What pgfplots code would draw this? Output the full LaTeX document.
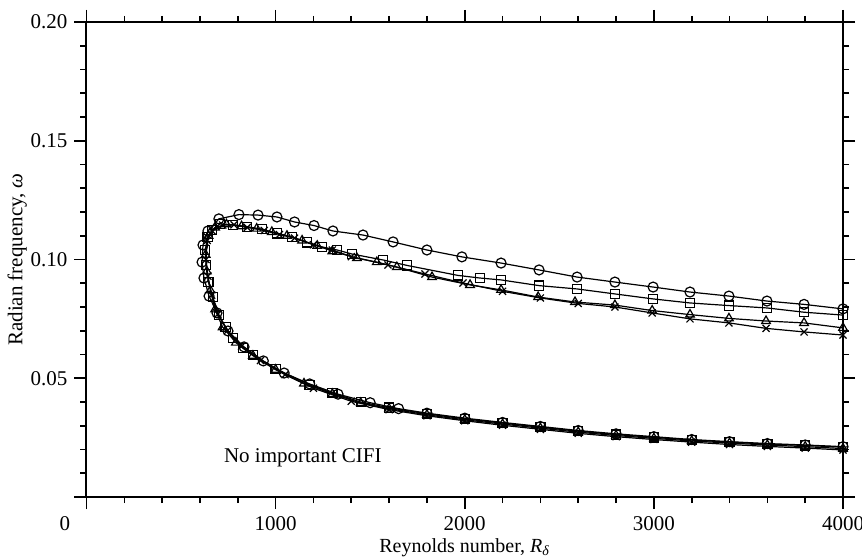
\documentclass[border=0pt]{standalone}
\usepackage{pgfplots}
\pgfplotsset{compat=1.18}
\usepackage{fontspec}
\setmainfont{Liberation Serif}
\begin{document}
\begin{tikzpicture}
\useasboundingbox (-43.25pt,-30pt) rectangle (387.75pt,248.5pt);
\begin{axis}[
  scale only axis,
  width=378.25pt, height=237.5pt,
  xmin=0, xmax=4000, ymin=0, ymax=0.2,
  xtick={0,1000,2000,3000,4000},
  xticklabels={,1000,2000,3000,4000},
  extra x ticks={0},
  extra x tick labels={0},
  extra x tick style={tick label style={xshift=-10.75pt}},
  ytick={0,0.05,0.1,0.15,0.2},
  yticklabels={,0.05,0.10,0.15,0.20},
  minor x tick num=4,
  minor y tick num=4,
  tick align=outside,
  major tick length=6pt,
  minor tick length=3pt,
  every tick/.style={black, line width=0.8pt},
  axis line style={line width=1pt},
  tick label style={font=\fontsize{10.5}{12}\selectfont},
  label style={font=\fontsize{10.5}{12}\selectfont},
  /pgf/number format/assume math mode=true,
  xlabel={Reynolds number, \textit{R}\textsubscript{\textit{δ}}},
  ylabel={Radian frequency, \textit{ω}},
  every axis x label/.style={at={(axis description cs:0.5,0)}, anchor=base, yshift=-27.5pt},
  ylabel style={yshift=-5pt},
]
% circles
\addplot[black, line width=0.6pt, mark=o, mark size=2.5pt, mark options={solid, fill=white}] coordinates {
(4000,0.0212)(3800,0.0219)(3600,0.0225)(3400,0.0233)(3200,0.0242)(3000,0.0254)(2800,0.0266)(2600,0.0280)(2400,0.0297)(2200,0.0314)(2000,0.0332)(1800,0.0353)(1650,0.0372)(1500,0.0397)(1330,0.0433)(1180,0.0476)(1045,0.0522)(935,0.0573)(833,0.0632)(748,0.0699)(690,0.0775)(648,0.0846)(621,0.0922)(611,0.0989)(616,0.1061)(642,0.1120)(700,0.1171)(806,0.1189)(907,0.1187)(1007,0.1179)(1100,0.1158)(1203,0.1143)(1303,0.1120)(1462,0.1103)(1621,0.1074)(1800,0.1040)(1985,0.1011)(2192,0.0985)(2393,0.0956)(2594,0.0926)(2794,0.0905)(2996,0.0884)(3191,0.0863)(3397,0.0846)(3598,0.0825)(3794,0.0811)(4000,0.0792)
};
% squares
\addplot[black, line width=0.6pt, mark=square, mark size=2.3pt, mark options={solid, fill=white}] coordinates {
(4000,0.0210)(3800,0.0217)(3600,0.0223)(3400,0.0231)(3200,0.0240)(3000,0.0251)(2800,0.0263)(2600,0.0277)(2400,0.0294)(2200,0.0311)(2000,0.0329)(1800,0.0350)(1600,0.0376)(1450,0.0400)(1300,0.0438)(1180,0.0472)(1000,0.0540)(880,0.0598)(827,0.0627)(775,0.0669)(735,0.0716)(700,0.0766)(668,0.0842)(645,0.0905)(632,0.0977)(628,0.1040)(640,0.1095)(665,0.1125)(706,0.1150)(775,0.1146)(848,0.1138)(928,0.1128)(1007,0.1110)(1087,0.1095)(1166,0.1072)(1245,0.1053)(1325,0.1040)(1404,0.1023)(1568,0.0998)(1695,0.0975)(1964,0.0933)(2080,0.0922)(2192,0.0914)(2393,0.0890)(2594,0.0876)(2794,0.0855)(2996,0.0834)(3191,0.0817)(3397,0.0806)(3598,0.0796)(3794,0.0778)(4000,0.0766)
};
% triangles
\addplot[black, line width=0.6pt, mark=triangle, mark size=2.5pt, mark options={solid, fill=white}] coordinates {
(4000,0.0204)(3800,0.0212)(3600,0.0219)(3400,0.0227)(3200,0.0236)(3000,0.0247)(2800,0.0259)(2600,0.0273)(2400,0.0290)(2200,0.0307)(2000,0.0325)(1800,0.0346)(1600,0.0372)(1450,0.0396)(1300,0.0434)(1150,0.0478)(1000,0.0536)(880,0.0595)(790,0.0650)(720,0.0715)(680,0.0790)(655,0.0870)(636,0.0950)(630,0.1020)(645,0.1100)(680,0.1135)(740,0.1148)(820,0.1140)(900,0.1130)(980,0.1116)(1060,0.1100)(1140,0.1080)(1220,0.1058)(1300,0.1035)(1430,0.1006)(1535,0.0989)(1641,0.0968)(1827,0.0926)(2028,0.0893)(2192,0.0872)(2388,0.0842)(2583,0.0821)(2794,0.0808)(2991,0.0785)(3191,0.0768)(3397,0.0752)(3593,0.0741)(3794,0.0733)(4000,0.0712)
};
% crosses
\addplot[black, line width=0.6pt, mark=x, mark size=2.5pt, mark options={solid}] coordinates {
(4000,0.0198)(3800,0.0206)(3600,0.0213)(3400,0.0221)(3200,0.0231)(3000,0.0242)(2800,0.0254)(2600,0.0268)(2400,0.0285)(2200,0.0302)(2000,0.0321)(1800,0.0342)(1600,0.0368)(1400,0.0403)(1200,0.0458)(1050,0.0515)(920,0.0575)(820,0.0635)(745,0.0700)(695,0.0770)(662,0.0850)(642,0.0930)(632,0.1000)(638,0.1080)(665,0.1120)(720,0.1145)(780,0.1146)(850,0.1135)(940,0.1122)(1020,0.1105)(1100,0.1090)(1200,0.1062)(1300,0.1040)(1400,0.1012)(1594,0.0977)(1790,0.0939)(1991,0.0901)(2200,0.0866)(2400,0.0838)(2600,0.0815)(2794,0.0800)(2991,0.0775)(3191,0.0750)(3397,0.0733)(3593,0.0710)(3794,0.0695)(4000,0.0682)
};
\node[anchor=west, font=\fontsize{10.5}{12}\selectfont] at (axis cs:690,0.0164) {No important CIFI};
\end{axis}
\end{tikzpicture}
\end{document}
